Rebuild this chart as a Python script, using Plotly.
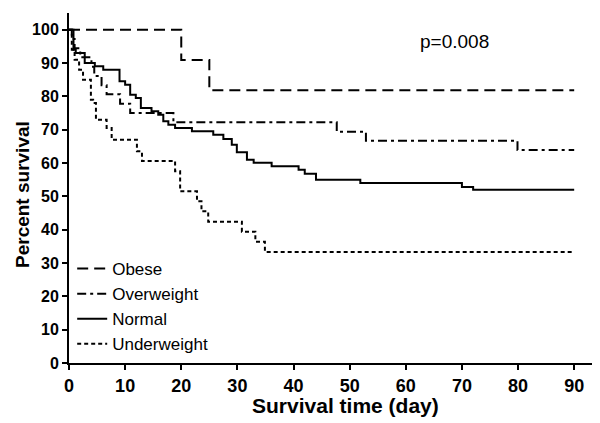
import plotly.graph_objects as go

# Kaplan-Meier step data (day, percent survival)
obese_t = [0, 20, 25, 90]
obese_s = [100, 90.9, 81.8, 81.8]

over_t = [0, 0.5, 1, 2, 4, 4.5, 5.8, 6.7, 9.1, 10.9, 18.6, 47.7, 52.9, 79.9, 90]
over_s = [100, 97.2, 94.4, 91.7, 88.9, 86.1, 83.3, 80.6, 77.8, 75.0, 72.2, 69.4, 66.7, 63.9, 63.9]

normal_t = [0, 0.8, 1.2, 2.8, 4.6, 6.1, 9, 10, 10.9, 11.9, 12.8, 14.7, 15.9, 16.8, 17.7, 18.9,
            21.9, 25.7, 27.5, 29, 29.9, 31.7, 32.9, 36.1, 40.9, 42, 44, 51.9, 70, 72, 90]
normal_s = [100, 94, 93, 90, 89, 88, 84.5, 83.5, 80.5, 79.5, 76.5, 75.5, 74.5, 72.5, 71.5, 70.5,
            69.5, 68.5, 67.2, 65.5, 63.2, 61, 60.1, 59, 58, 56.8, 55, 54, 52.8, 52, 52]

under_t = [0, 0.5, 1, 1.8, 2.5, 3.9, 4.3, 4.8, 6.7, 7.6, 12.1, 13, 18.9, 19.8, 22.8, 23.6, 24.8,
           30.8, 33.2, 34.9, 90]
under_s = [100, 94, 91, 88, 85, 79, 78, 73, 70.5, 67, 63.5, 60.6, 57.5, 51.5, 48.5, 45.5, 42.4,
           39.4, 36.4, 33.3, 33.3]

x_ticks = [0, 10, 20, 30, 40, 50, 60, 70, 80, 90]
y_ticks = [0, 10, 20, 30, 40, 50, 60, 70, 80, 90, 100]

FONT = "Arial, Liberation Sans, sans-serif"

fig = go.Figure()
series = [
    ("Obese", obese_t, obese_s, "11px,6px"),
    ("Overweight", over_t, over_s, "9px,4px,3px,4px"),
    ("Normal", normal_t, normal_s, "solid"),
    ("Underweight", under_t, under_s, "4px,3px"),
]
for name, t, s, dash in series:
    fig.add_trace(go.Scatter(x=t, y=s, mode="lines", name=name,
                             line=dict(color="black", width=2, dash=dash, shape="hv")))

fig.add_annotation(x=68.6, y=96.4, xref="x", yref="y", text="p=0.008", showarrow=False,
                   font=dict(family=FONT, size=19, color="black"))

# axis titles
fig.add_annotation(x=0.52, y=-0.12, xref="paper", yref="paper", text="<b>Survival time (day)</b>",
                   xanchor="center", yanchor="middle",
                   showarrow=False, font=dict(family=FONT, size=21, color="black"))
fig.add_annotation(x=-0.0885, y=0.48, xref="paper", yref="paper", text="<b>Percent survival</b>",
                   xanchor="center", yanchor="middle",
                   textangle=-90, showarrow=False, font=dict(family=FONT, size=19, color="black"))

axis_common = dict(showline=True, linecolor="black", linewidth=2, ticks="outside",
                   tickwidth=2, ticklen=5, tickcolor="black", showgrid=False, zeroline=False)

fig.update_layout(
    width=592, height=415,
    margin=dict(l=61, r=0, t=5, b=60),
    plot_bgcolor="white", paper_bgcolor="white",
    showlegend=True,
    legend=dict(x=0.006, y=0.32, xanchor="left", yanchor="top", bgcolor="rgba(0,0,0,0)",
                font=dict(family=FONT, size=17, color="black"), tracegroupgap=0,
                itemwidth=30),
    xaxis=dict(range=[0, 94.6], tickvals=x_ticks,
               ticktext=["<b>%d</b>" % v for v in x_ticks],
               tickfont=dict(family=FONT, size=18, color="black"),
               **axis_common),
    yaxis=dict(range=[0, 105], tickvals=y_ticks,
               ticktext=["<b>%d</b>" % v for v in y_ticks],
               tickfont=dict(family=FONT, size=16, color="black"),
               **axis_common),
)

fig.write_html("out.html")
